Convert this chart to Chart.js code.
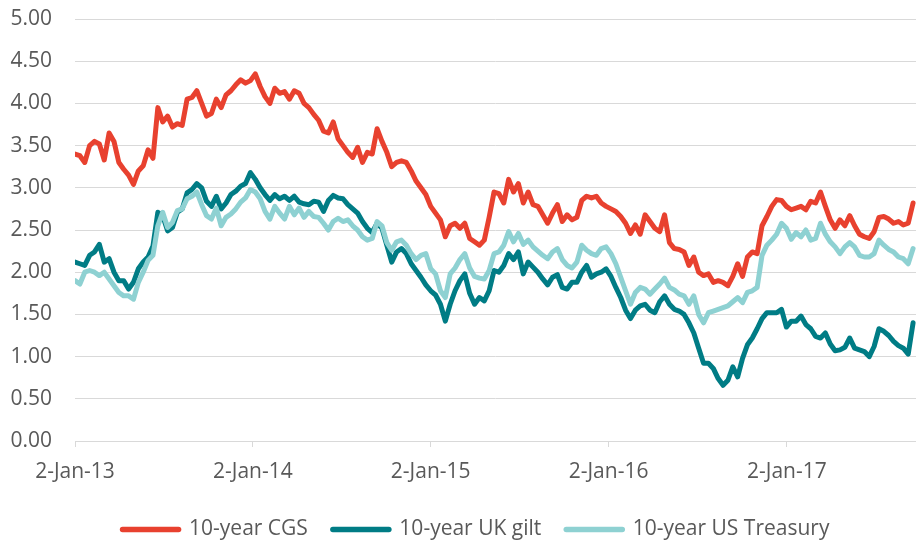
<!DOCTYPE html>
<html><head><meta charset="utf-8">
<script src="https://cdn.jsdelivr.net/npm/chart.js@4"></script>
<style>html,body{margin:0;padding:0;background:#fff}#wrap{width:916px;height:540px;position:relative}</style>
</head><body><div id="wrap"><canvas id="c"></canvas></div>
<script>
// Sampled every 10 days starting 2-Jan-2013
const startDate = '2013-01-02';
const stepDays = 10;
const seriesNames = ['10-year CGS', '10-year UK gilt', '10-year US Treasury'];
const cgs = [
 3.40,3.38,3.30,3.50,3.55,3.52,3.33,3.65,3.55,3.30,3.22,3.15,3.04,3.20,3.26,3.45,3.35,3.95,3.78,3.85,3.72,3.76,3.74,4.05,4.07,
 4.15,4.00,3.85,3.88,4.05,3.95,4.10,4.15,4.22,4.28,4.24,4.27,4.35,4.20,4.08,4.00,4.18,4.12,4.14,4.05,4.15,4.12,4.00,3.95,3.87,
 3.80,3.67,3.65,3.78,3.58,3.50,3.42,3.36,3.48,3.30,3.42,3.40,3.70,3.55,3.42,3.25,3.30,3.32,3.30,3.20,3.08,3.00,2.92,2.78,
 2.70,2.62,2.42,2.55,2.58,2.52,2.58,2.40,2.36,2.32,2.38,2.65,2.95,2.93,2.82,3.10,2.95,3.05,2.82,2.95,2.80,2.78,2.68,2.58,2.70,
 2.80,2.60,2.68,2.62,2.65,2.85,2.90,2.88,2.90,2.82,2.78,2.75,2.72,2.66,2.58,2.46,2.56,2.45,2.68,2.60,2.52,2.48,2.68,2.35,2.28,
 2.27,2.24,2.08,2.18,2.00,1.96,1.98,1.88,1.90,1.88,1.84,1.95,2.10,1.95,2.18,2.24,2.22,2.55,2.66,2.78,2.86,2.85,2.78,2.74,
 2.76,2.78,2.74,2.84,2.82,2.95,2.78,2.62,2.52,2.62,2.55,2.67,2.55,2.45,2.42,2.40,2.48,2.65,2.66,2.63,2.58,2.60,2.56,2.58,2.82
];
const ukGilt = [
 2.12,2.10,2.08,2.20,2.24,2.33,2.12,2.16,2.00,1.90,1.90,1.80,1.88,2.04,2.12,2.18,2.31,2.71,2.67,2.49,2.53,2.71,2.75,2.94,2.98,
 3.05,3.00,2.84,2.78,2.90,2.75,2.82,2.92,2.96,3.02,3.05,3.18,3.10,3.00,2.92,2.85,2.92,2.87,2.90,2.85,2.90,2.83,2.81,2.80,2.84,
 2.83,2.72,2.85,2.91,2.88,2.87,2.80,2.75,2.70,2.60,2.52,2.47,2.58,2.52,2.32,2.12,2.24,2.28,2.22,2.10,2.02,1.94,1.85,1.78,
 1.73,1.62,1.42,1.62,1.78,1.90,1.98,1.75,1.62,1.70,1.66,1.78,2.02,2.00,2.08,2.22,2.15,2.24,1.98,2.12,2.06,2.00,1.92,1.85,1.94,
 1.97,1.82,1.80,1.88,1.88,2.00,2.08,1.94,1.98,2.00,2.04,1.95,1.82,1.70,1.55,1.45,1.55,1.60,1.62,1.55,1.52,1.65,1.72,1.62,1.56,
 1.54,1.50,1.40,1.28,1.10,0.92,0.92,0.86,0.74,0.66,0.72,0.88,0.76,0.98,1.14,1.22,1.33,1.45,1.52,1.52,1.52,1.56,1.35,1.42,
 1.42,1.48,1.38,1.33,1.24,1.22,1.28,1.15,1.07,1.08,1.11,1.22,1.10,1.08,1.06,1.00,1.12,1.33,1.30,1.25,1.18,1.13,1.10,1.03,1.40
];
const usTreasury = [
 1.90,1.86,2.00,2.02,2.00,1.96,2.00,1.92,1.84,1.76,1.72,1.72,1.68,1.88,2.00,2.14,2.20,2.55,2.71,2.53,2.59,2.73,2.75,2.87,2.90,
 2.95,2.80,2.67,2.63,2.76,2.55,2.65,2.69,2.75,2.83,2.88,2.98,2.95,2.87,2.72,2.63,2.78,2.70,2.63,2.78,2.68,2.76,2.65,2.72,2.66,
 2.65,2.58,2.50,2.60,2.64,2.60,2.62,2.55,2.50,2.42,2.38,2.40,2.60,2.55,2.35,2.26,2.36,2.38,2.32,2.22,2.15,2.20,2.22,2.04,
 1.98,1.78,1.70,1.98,2.05,2.15,2.22,2.05,1.95,1.93,1.92,2.02,2.22,2.24,2.32,2.48,2.36,2.46,2.33,2.38,2.30,2.25,2.20,2.16,2.24,
 2.28,2.15,2.08,2.05,2.12,2.32,2.26,2.22,2.20,2.28,2.30,2.22,2.10,1.94,1.78,1.62,1.76,1.82,1.80,1.74,1.80,1.86,1.93,1.82,1.79,
 1.74,1.72,1.62,1.72,1.50,1.40,1.52,1.54,1.56,1.58,1.60,1.65,1.70,1.64,1.76,1.78,1.82,2.20,2.32,2.38,2.45,2.58,2.52,2.39,
 2.47,2.42,2.50,2.38,2.40,2.58,2.45,2.36,2.30,2.22,2.30,2.35,2.30,2.20,2.18,2.18,2.22,2.38,2.32,2.27,2.24,2.18,2.16,2.10,2.28
];
const tickDates = ['2013-01-02', '2014-01-02', '2015-01-02', '2016-01-02', '2017-01-02'];
const tickLabels = ['2-Jan-13', '2-Jan-14', '2-Jan-15', '2-Jan-16', '2-Jan-17'];
const endDate = '2017-09-24';

const DAY = 86400000;
const dayOf = d => Math.round((Date.parse(d) - Date.parse(startDate)) / DAY);
const tickDays = tickDates.map(dayOf);
const pts = arr => arr.map((v, i) => ({x: i * stepDays, y: v}));
const font = {family: "'Open Sans', sans-serif", size: 21};
const txt = '#595959';

// shift the bottom legend so it is centred where the reference centres it
const legendShift = {
  id: 'legendShift',
  afterLayout(chart) {
    if (chart.legend) { chart.legend.left += 18; chart.legend.right += 18; }
  }
};

new Chart(document.getElementById('c'), {
  type: 'line',
  data: {datasets: [
    {label: seriesNames[0], data: pts(cgs), borderColor: '#E8412F', backgroundColor: '#E8412F', order: 2},
    {label: seriesNames[1], data: pts(ukGilt), borderColor: '#007C85', backgroundColor: '#007C85', order: 1},
    {label: seriesNames[2], data: pts(usTreasury), borderColor: '#8ED1D2', backgroundColor: '#8ED1D2', order: 0}
  ]},
  plugins: [legendShift],
  options: {
    responsive: true, maintainAspectRatio: false, animation: false,
    elements: {
      line: {borderWidth: 5, tension: 0, borderCapStyle: 'round', borderJoinStyle: 'round', fill: false},
      point: {radius: 0, hoverRadius: 0}
    },
    layout: {padding: {top: 19, right: 0, bottom: -10, left: 0}},
    scales: {
      x: {
        type: 'linear', min: 0, max: dayOf(endDate),
        afterBuildTicks: s => { s.ticks = tickDays.map(v => ({value: v})); },
        afterFit: s => { s.height = 53; },
        ticks: {callback: v => tickLabels[tickDays.indexOf(v)], font, color: txt, padding: 12, maxRotation: 0, autoSkip: false},
        grid: {drawOnChartArea: false, drawTicks: true, tickLength: 6, color: '#d9d9d9'},
        border: {display: true, color: '#d9d9d9', width: 1}
      },
      y: {
        min: 0, max: 5,
        ticks: {stepSize: 0.5, callback: v => v.toFixed(2), font, color: txt, padding: 23},
        grid: {color: '#d9d9d9', drawTicks: false, lineWidth: 1},
        border: {display: false},
        afterFit: s => { s.width = 75; s.paddingTop = 10; s.paddingBottom = 10; }
      }
    },
    plugins: {
      legend: {
        position: 'bottom',
        labels: {
          usePointStyle: true, pointStyle: 'line', pointStyleWidth: 56, font, color: txt, padding: 25,
          sort: (a, b) => a.datasetIndex - b.datasetIndex,
          generateLabels: chart => Chart.defaults.plugins.legend.labels.generateLabels(chart)
            .map(l => Object.assign(l, {lineWidth: 5.5, lineCap: 'round', strokeStyle: chart.data.datasets[l.datasetIndex].borderColor}))
        }
      },
      tooltip: {enabled: false}
    }
  }
});
</script>
</body></html>
